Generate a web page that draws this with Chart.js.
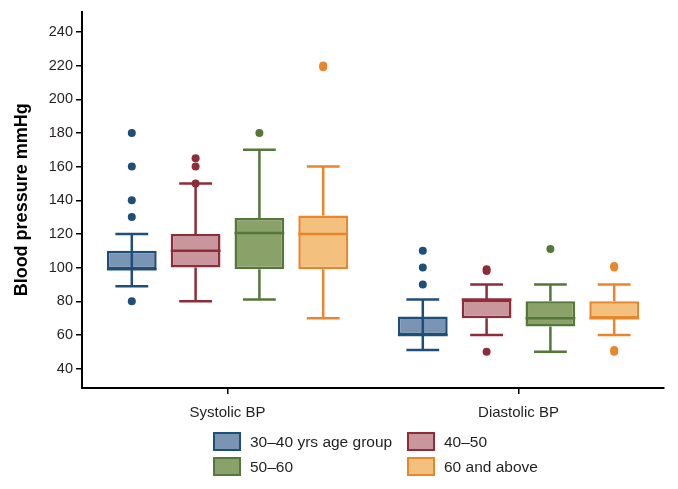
<!DOCTYPE html>
<html>
<head>
<meta charset="utf-8">
<script src="https://cdn.jsdelivr.net/npm/chart.js@4"></script>
<style>
  body { margin: 0; background: #fff; }
  #wrap { position: relative; width: 678px; height: 489px; }
  .legend { position: absolute; left: 0; top: 0; font-family: "Liberation Sans", Arial, sans-serif; font-size: 15.5px; color: #231f20; }
  .item { position: absolute; white-space: nowrap; }
  .item span.sw { position: absolute; left: 0; top: 0; width: 24px; height: 15px; border: 2px solid; }
  .item span.tx { position: absolute; left: 37px; top: 0px; line-height: 19px; }
</style>
</head>
<body>
<div id="wrap">
  <canvas id="chart"></canvas>
  <div class="legend" id="legend"></div>
</div>
<script>
const categories = ['Systolic BP', 'Diastolic BP']
const groups = ['30–40 yrs age group', '40–50', '50–60', '60 and above']
const yTicks = [40, 60, 80, 100, 120, 140, 160, 180, 200, 220, 240]

// per group: [systolic, diastolic]
const whiskerLow = [[89, 51], [80, 60], [81, 50], [70, 60]]
const boxLow = [[99, 60], [100, 70], [99, 65], [99, 70]]
const medians = [[99, 60], [110, 81], [120.5, 70], [120, 70]]
const boxHigh = [[110, 71], [120, 81], [129.5, 80], [131, 80]]
const whiskerHigh = [[120, 81], [150, 90], [170, 90], [160, 90]]
const outliers = [
  [[80, 130, 140, 160, 180], [90, 100, 110]],
  [[150, 160, 165], [50, 98, 99]],
  [[180], [111]],
  [[219, 220], [50, 51, 100, 101]]
]

const fillColors = ['#7a95b4', '#c8969c', '#8aa26a', '#f3c07e']
const lineColors = ['#1f4e79', '#8e2d38', '#56773a', '#e9862b']
const lineThroughBox = [true, false, false, false]

const FONT = '"Liberation Sans", Arial, sans-serif'

const boxPlugin = {
  id: 'boxWhiskers',
  afterDatasetsDraw(chart) {
    const ctx = chart.ctx
    const y = chart.scales.y
    chart.data.datasets.forEach((ds, d) => {
      const meta = chart.getDatasetMeta(d)
      meta.data.forEach((bar, i) => {
        const x = bar.x
        const half = bar.width / 2
        const cap = bar.width * 0.33
        const py = v => y.getPixelForValue(v)
        ctx.save()
        ctx.strokeStyle = lineColors[d]
        ctx.fillStyle = lineColors[d]
        ctx.lineWidth = 2.5
        ctx.beginPath()
        if (lineThroughBox[d]) {
          ctx.moveTo(x, py(whiskerLow[d][i]))
          ctx.lineTo(x, py(whiskerHigh[d][i]))
        } else {
          ctx.moveTo(x, py(boxHigh[d][i]))
          ctx.lineTo(x, py(whiskerHigh[d][i]))
          ctx.moveTo(x, py(boxLow[d][i]))
          ctx.lineTo(x, py(whiskerLow[d][i]))
        }
        ctx.moveTo(x - cap, py(whiskerHigh[d][i]))
        ctx.lineTo(x + cap, py(whiskerHigh[d][i]))
        ctx.moveTo(x - cap, py(whiskerLow[d][i]))
        ctx.lineTo(x + cap, py(whiskerLow[d][i]))
        ctx.moveTo(x - half, py(medians[d][i]))
        ctx.lineTo(x + half, py(medians[d][i]))
        ctx.stroke()
        outliers[d][i].forEach(v => {
          ctx.beginPath()
          ctx.arc(x, py(v), 4, 0, Math.PI * 2)
          ctx.fill()
        })
        ctx.restore()
      })
    })
  }
}

const datasets = groups.map((g, d) => ({
  label: g,
  data: categories.map((c, i) => [boxLow[d][i], boxHigh[d][i]]),
  backgroundColor: fillColors[d],
  borderColor: lineColors[d],
  borderWidth: 2.5,
  borderSkipped: false,
  categoryPercentage: 0.877,
  barPercentage: 0.78
}))

new Chart(document.getElementById('chart'), {
  type: 'bar',
  data: { labels: categories, datasets: datasets },
  plugins: [boxPlugin],
  options: {
    responsive: true,
    maintainAspectRatio: false,
    animation: false,
    layout: { padding: { left: 9, right: 14, top: 11, bottom: 0 } },
    scales: {
      x: {
        offset: true,
        grid: { display: true, drawOnChartArea: false, drawTicks: true, tickLength: 6, offset: false, color: '#000', lineWidth: 1.5 },
        border: { display: true, color: '#000', width: 2 },
        ticks: { color: '#231f20', padding: 10, font: { family: FONT, size: 15 } },
        afterFit(scale) { scale.height = 101 }
      },
      y: {
        min: 28.5,
        max: 252,
        afterBuildTicks(scale) { scale.ticks = yTicks.map(v => ({ value: v })) },
        grid: { display: true, drawOnChartArea: false, drawTicks: true, tickLength: 6, color: '#000', lineWidth: 1.5 },
        border: { display: true, color: '#000', width: 2 },
        ticks: { color: '#231f20', padding: 3, font: { family: FONT, size: 14.5 } },
        title: { display: true, text: 'Blood pressure mmHg', color: '#000', padding: { top: 2, bottom: 2 }, font: { family: FONT, size: 18, weight: 'bold' } },
        afterFit(scale) { scale.width = 73 }
      }
    },
    plugins: {
      legend: { display: false },
      tooltip: { enabled: false }
    }
  }
})

// two-column legend under the axis
const legend = document.getElementById('legend')
const cols = [213, 407]
const rows = [432, 457]
groups.forEach((g, d) => {
  const item = document.createElement('div')
  item.className = 'item'
  item.style.left = cols[d % 2] + 'px'
  item.style.top = rows[Math.floor(d / 2)] + 'px'
  item.innerHTML = '<span class="sw" style="background:' + fillColors[d] + ';border-color:' + lineColors[d] + '"></span><span class="tx">' + g + '</span>'
  legend.appendChild(item)
})
</script>
</body>
</html>
